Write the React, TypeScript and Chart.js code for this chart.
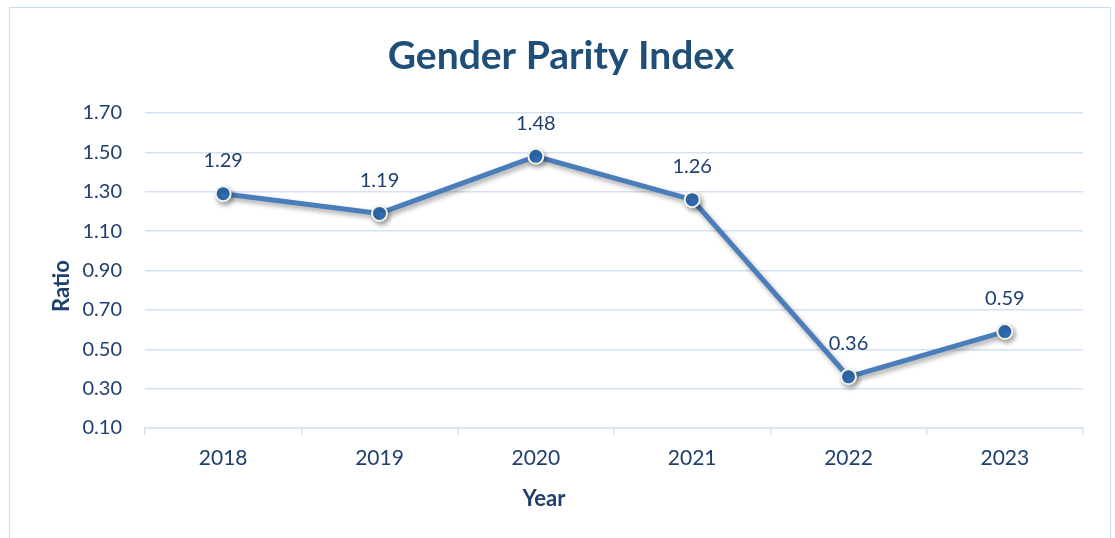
import React, { useEffect, useRef } from "react";
import { Chart, registerables } from "chart.js";

Chart.register(...registerables);

const years = ["2018", "2019", "2020", "2021", "2022", "2023"];
const ratios = [1.29, 1.19, 1.48, 1.26, 0.36, 0.59];
const yMin = 0.1;
const yMax = 1.7;
const yStep = 0.2;
const chartTitle = "Gender Parity Index";
const xTitle = "Year";
const yTitle = "Ratio";

const FONT = "Lato, 'Open Sans', sans-serif";
const TEXT = "#1F3F6E";
const GRID = "#D6E2F3";

export default function App() {
  const ref = useRef<HTMLCanvasElement>(null);
  useEffect(() => {
    const canvas = ref.current!;
    const shadowPlugin = {
      id: "shadow",
      beforeDatasetsDraw(chart: any) {
        const ctx = chart.ctx;
        ctx.save();
        ctx.shadowColor = "rgba(0,0,0,0.35)";
        ctx.shadowBlur = 5;
        ctx.shadowOffsetX = 2;
        ctx.shadowOffsetY = 3;
      },
      afterDatasetsDraw(chart: any) {
        chart.ctx.restore();
      },
    };
    const textPlugin = {
      id: "texts",
      afterDraw(chart: any) {
        const ctx = chart.ctx;
        ctx.save();
        ctx.fillStyle = "#1F4E79";
        ctx.textAlign = "center";
        ctx.textBaseline = "middle";
        ctx.font = `bold 39px ${FONT}`;
        ctx.fillText(chartTitle, 561, 56);
        ctx.fillStyle = TEXT;
        ctx.font = `bold 22px ${FONT}`;
        ctx.fillText(xTitle, 544, 499);
        ctx.save();
        ctx.translate(62, 286);
        ctx.rotate(-Math.PI / 2);
        ctx.fillText(yTitle, 0, 0);
        ctx.restore();
        ctx.font = `20px ${FONT}`;
        const meta = chart.getDatasetMeta(0);
        meta.data.forEach((pt: any, i: number) => {
          ctx.fillText(ratios[i].toFixed(2), pt.x, pt.y - 33);
        });
        ctx.restore();
      },
    };
    const chart = new Chart(canvas, {
      type: "line",
      data: {
        labels: years,
        datasets: [
          {
            data: ratios,
            borderColor: "#4A7EBB",
            borderWidth: 5,
            pointBackgroundColor: "#2F6DB5",
            pointBorderColor: "#F2F2E6",
            pointBorderWidth: 2,
            pointRadius: 7.5,
            tension: 0,
          },
        ],
      },
      options: {
        animation: false,
        responsive: false,
        layout: { padding: { top: 113, right: 32, left: 0, bottom: 0 } },
        plugins: { legend: { display: false }, tooltip: { enabled: false }, title: { display: false } },
        scales: {
          x: {
            offset: true,
            grid: { offset: true, drawOnChartArea: false, drawTicks: true, tickLength: 7, color: GRID, lineWidth: 1.5 },
            border: { display: true, color: GRID, width: 1.5 },
            ticks: { color: TEXT, font: { family: FONT, size: 21 }, padding: 11 },
            afterFit(scale: any) {
              scale.height = 110;
            },
          },
          y: {
            min: yMin,
            max: yMax,
            grid: { color: GRID, lineWidth: 1.5, drawTicks: false },
            border: { display: false },
            ticks: {
              stepSize: yStep,
              color: TEXT,
              font: { family: FONT, size: 20 },
              padding: 23,
              callback: (v: any) => Number(v).toFixed(2),
            },
            afterFit(scale: any) {
              scale.width = 145;
            },
          },
        },
      },
      plugins: [shadowPlugin, textPlugin],
    } as any);
    return () => chart.destroy();
  }, []);
  return (
    <div style={{ position: "fixed", left: 0, top: 0, width: 1115, height: 538, background: "#fff", overflow: "hidden" }}>
      <div
        style={{
          position: "absolute",
          left: 9,
          top: 7,
          width: 1102,
          height: 560,
          border: "1.5px solid #C9D9EE",
          boxSizing: "border-box",
        }}
      />
      <canvas ref={ref} width={1115} height={538} style={{ position: "absolute", left: 0, top: 0 }} />
    </div>
  );
}
